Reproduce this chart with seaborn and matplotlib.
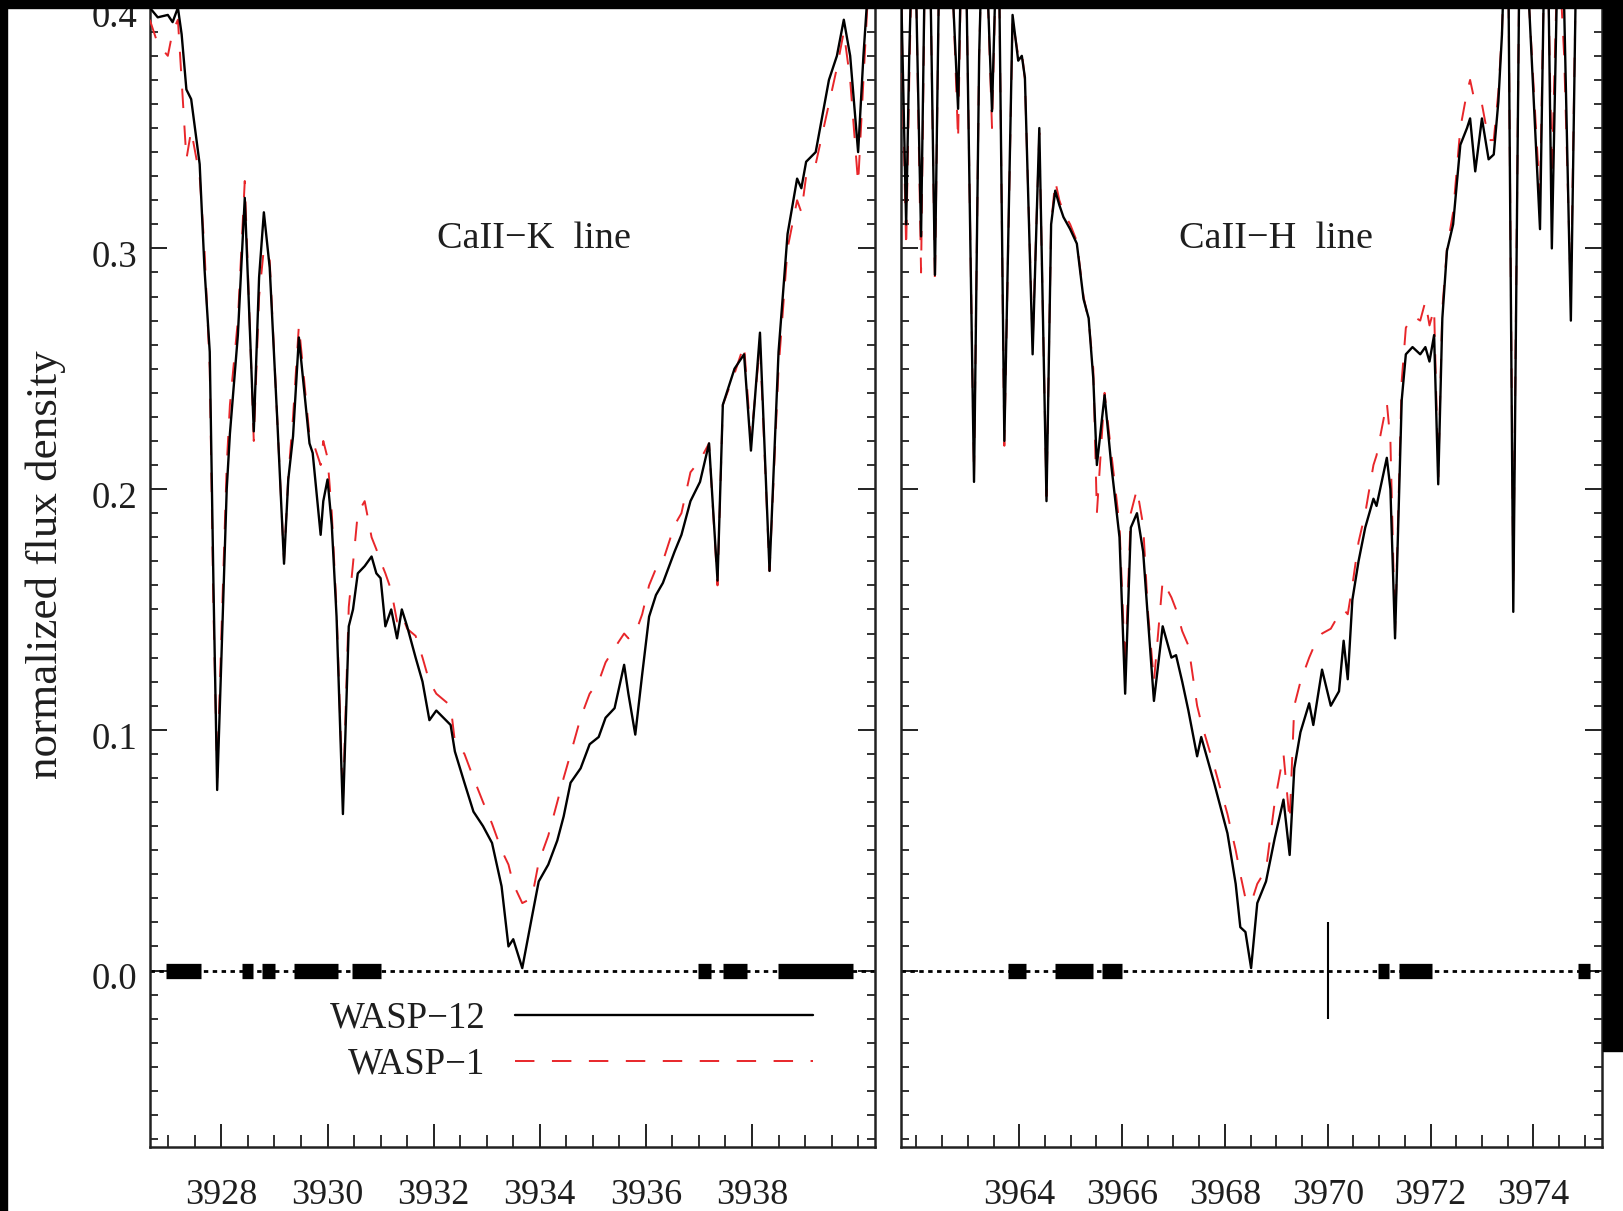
import matplotlib
matplotlib.use("Agg")
import matplotlib.pyplot as plt
import matplotlib.transforms as mtransforms
from matplotlib.patches import Rectangle
from matplotlib.ticker import MultipleLocator, FixedLocator, FormatStrFormatter
import numpy as np
import pandas as pd
import seaborn as sns

# ---------------- data ----------------
k_wave = [3926.65, 3926.80, 3926.99, 3927.08, 3927.18, 3927.25, 3927.34, 3927.43, 3927.59,
          3927.68, 3927.78, 3927.85, 3927.92, 3928.00, 3928.10, 3928.16, 3928.31, 3928.44,
          3928.61, 3928.71, 3928.80, 3928.91, 3929.05, 3929.18, 3929.26, 3929.35, 3929.46,
          3929.66, 3929.72, 3929.87, 3929.92, 3930.00, 3930.08, 3930.17, 3930.29, 3930.40,
          3930.48, 3930.57, 3930.70, 3930.83, 3930.92, 3931.00, 3931.09, 3931.20, 3931.31,
          3931.40, 3931.50, 3931.66, 3931.79, 3931.92, 3932.05, 3932.32, 3932.40, 3932.58,
          3932.75, 3932.93, 3933.10, 3933.28, 3933.41, 3933.50, 3933.67, 3933.85, 3933.98,
          3934.16, 3934.33, 3934.45, 3934.58, 3934.77, 3934.94, 3935.11, 3935.24, 3935.41,
          3935.59, 3935.67, 3935.80, 3935.93, 3936.06, 3936.19, 3936.32, 3936.54, 3936.67,
          3936.84, 3937.02, 3937.19, 3937.35, 3937.45, 3937.67, 3937.85, 3937.98, 3938.15,
          3938.33, 3938.50, 3938.67, 3938.85, 3938.93, 3939.02, 3939.20, 3939.45, 3939.60,
          3939.73, 3939.85, 3940.00, 3940.10, 3940.22, 3940.32]
k_wasp12 = [0.400, 0.396, 0.397, 0.394, 0.400, 0.389, 0.366, 0.362, 0.335,
            0.292, 0.257, 0.160, 0.075, 0.130, 0.200, 0.223, 0.264, 0.321,
            0.224, 0.288, 0.315, 0.292, 0.230, 0.169, 0.204, 0.222, 0.263,
            0.219, 0.215, 0.181, 0.195, 0.204, 0.185, 0.147, 0.065, 0.143,
            0.150, 0.165, 0.168, 0.172, 0.165, 0.163, 0.143, 0.150, 0.138,
            0.150, 0.143, 0.130, 0.120, 0.104, 0.108, 0.102, 0.091, 0.078,
            0.066, 0.060, 0.053, 0.035, 0.010, 0.013, 0.001, 0.022, 0.037,
            0.044, 0.054, 0.064, 0.078, 0.084, 0.094, 0.097, 0.105, 0.109,
            0.127, 0.115, 0.098, 0.123, 0.147, 0.156, 0.161, 0.174, 0.181,
            0.195, 0.203, 0.219, 0.162, 0.235, 0.250, 0.256, 0.216, 0.265,
            0.166, 0.257, 0.306, 0.329, 0.325, 0.336, 0.340, 0.370, 0.380,
            0.395, 0.380, 0.340, 0.380, 0.420, 0.430]
k_wasp1 = [0.395, 0.385, 0.380, 0.390, 0.395, 0.370, 0.337, 0.349, 0.330,
           0.300, 0.250, 0.150, 0.080, 0.140, 0.210, 0.235, 0.270, 0.328,
           0.220, 0.280, 0.300, 0.295, 0.230, 0.170, 0.205, 0.230, 0.268,
           0.222, 0.220, 0.210, 0.220, 0.213, 0.190, 0.150, 0.070, 0.151,
           0.169, 0.190, 0.195, 0.180, 0.175, 0.170, 0.165, 0.158, 0.145,
           0.148, 0.142, 0.139, 0.130, 0.120, 0.115, 0.110, 0.095, 0.090,
           0.080, 0.070, 0.061, 0.050, 0.044, 0.036, 0.028, 0.030, 0.045,
           0.056, 0.070, 0.080, 0.090, 0.105, 0.115, 0.120, 0.128, 0.134,
           0.140, 0.138, 0.140, 0.148, 0.160, 0.167, 0.170, 0.185, 0.190,
           0.207, 0.212, 0.219, 0.160, 0.235, 0.248, 0.260, 0.220, 0.260,
           0.166, 0.250, 0.300, 0.320, 0.315, 0.330, 0.335, 0.360, 0.375,
           0.390, 0.370, 0.327, 0.370, 0.420, 0.430]

h_wave = [3961.69, 3961.75, 3961.80, 3961.86, 3961.92, 3962.00, 3962.09, 3962.17, 3962.28,
          3962.36, 3962.45, 3962.60, 3962.72, 3962.81, 3962.88, 3962.95, 3963.12, 3963.22,
          3963.28, 3963.38, 3963.47, 3963.55, 3963.60, 3963.71, 3963.87, 3963.98, 3964.05,
          3964.11, 3964.26, 3964.39, 3964.53, 3964.62, 3964.70, 3964.78, 3964.86, 3964.99,
          3965.12, 3965.25, 3965.35, 3965.44, 3965.51, 3965.66, 3965.79, 3965.95, 3966.06,
          3966.17, 3966.29, 3966.41, 3966.50, 3966.62, 3966.79, 3966.96, 3967.05, 3967.17,
          3967.29, 3967.46, 3967.54, 3967.79, 3968.05, 3968.21, 3968.30, 3968.40, 3968.51,
          3968.63, 3968.80, 3968.97, 3969.14, 3969.26, 3969.35, 3969.47, 3969.64, 3969.72,
          3969.89, 3970.06, 3970.22, 3970.31, 3970.39, 3970.48, 3970.60, 3970.73, 3970.89,
          3970.95, 3971.15, 3971.22, 3971.31, 3971.44, 3971.52, 3971.65, 3971.80, 3971.90,
          3971.98, 3972.07, 3972.15, 3972.23, 3972.32, 3972.44, 3972.58, 3972.71, 3972.77,
          3972.87, 3973.00, 3973.13, 3973.23, 3973.32, 3973.39, 3973.45, 3973.52, 3973.61,
          3973.72, 3973.80, 3973.92, 3974.13, 3974.22, 3974.30, 3974.36, 3974.48, 3974.60,
          3974.73, 3974.84, 3975.00, 3975.33]
h_wasp12 = [0.420, 0.360, 0.310, 0.380, 0.430, 0.400, 0.305, 0.430, 0.400,
            0.289, 0.430, 0.440, 0.400, 0.358, 0.430, 0.440, 0.203, 0.380,
            0.430, 0.410, 0.357, 0.420, 0.430, 0.220, 0.397, 0.378, 0.380,
            0.371, 0.256, 0.350, 0.195, 0.310, 0.324, 0.318, 0.313, 0.308,
            0.302, 0.279, 0.271, 0.246, 0.210, 0.239, 0.210, 0.180, 0.115,
            0.184, 0.190, 0.174, 0.147, 0.112, 0.143, 0.130, 0.131, 0.120,
            0.108, 0.089, 0.097, 0.078, 0.057, 0.036, 0.018, 0.016, 0.001,
            0.028, 0.037, 0.055, 0.071, 0.048, 0.084, 0.099, 0.111, 0.102,
            0.125, 0.110, 0.116, 0.137, 0.121, 0.154, 0.170, 0.184, 0.196,
            0.193, 0.213, 0.200, 0.138, 0.237, 0.256, 0.259, 0.256, 0.259,
            0.253, 0.264, 0.202, 0.271, 0.299, 0.310, 0.343, 0.350, 0.354,
            0.332, 0.354, 0.337, 0.339, 0.361, 0.389, 0.430, 0.400, 0.149,
            0.400, 0.440, 0.400, 0.308, 0.430, 0.400, 0.300, 0.430, 0.400,
            0.270, 0.430, 0.450, 0.450]
h_wasp1 = [0.420, 0.350, 0.300, 0.370, 0.430, 0.400, 0.290, 0.430, 0.400,
           0.285, 0.430, 0.440, 0.400, 0.345, 0.430, 0.440, 0.205, 0.380,
           0.430, 0.410, 0.350, 0.420, 0.430, 0.218, 0.395, 0.380, 0.382,
           0.370, 0.260, 0.348, 0.197, 0.310, 0.328, 0.320, 0.315, 0.310,
           0.303, 0.280, 0.270, 0.250, 0.190, 0.240, 0.215, 0.185, 0.125,
           0.190, 0.200, 0.185, 0.150, 0.120, 0.162, 0.155, 0.150, 0.141,
           0.135, 0.110, 0.103, 0.085, 0.065, 0.050, 0.040, 0.030, 0.028,
           0.036, 0.042, 0.070, 0.090, 0.062, 0.110, 0.120, 0.130, 0.134,
           0.140, 0.142, 0.148, 0.150, 0.148, 0.160, 0.178, 0.190, 0.210,
           0.214, 0.236, 0.220, 0.140, 0.245, 0.267, 0.272, 0.270, 0.278,
           0.268, 0.275, 0.205, 0.275, 0.300, 0.315, 0.350, 0.365, 0.370,
           0.360, 0.360, 0.345, 0.345, 0.365, 0.390, 0.430, 0.400, 0.160,
           0.400, 0.440, 0.400, 0.320, 0.430, 0.400, 0.330, 0.430, 0.380,
           0.280, 0.430, 0.450, 0.450]

# masked wavelength intervals drawn as thick bars on the zero level
k_mask_start = [3926.96, 3928.38, 3928.76, 3929.37, 3930.47, 3936.99, 3937.46, 3938.49]
k_mask_end = [3927.61, 3928.59, 3929.01, 3930.20, 3931.00, 3937.22, 3937.91, 3939.90]
h_mask_start = [3963.78, 3964.69, 3965.60, 3970.98, 3971.39, 3974.87]
h_mask_end = [3964.14, 3965.43, 3966.00, 3971.20, 3972.03, 3975.11]

h_marker_wave = [3970.0]
h_marker_low = [-0.02]
h_marker_high = [0.02]

k_xticks = [3928, 3930, 3932, 3934, 3936, 3938]
h_xticks = [3964, 3966, 3968, 3970, 3972, 3974]
y_ticks = [0.0, 0.1, 0.2, 0.3, 0.4]

series_names = ["WASP\u221212", "WASP\u22121"]
panel_titles = ["CaII\u2212K  line", "CaII\u2212H  line"]
title_waves = [3933.90, 3969.00]
title_level = 0.304

# ---------------- style ----------------
sns.set_style("ticks")
plt.rcParams["font.family"] = ["Liberation Serif", "DejaVu Serif"]
TXT = "#1e1e1e"

W, H = 1624, 1211
fig = plt.figure(figsize=(W / 100, H / 100), dpi=100)
fig.patch.set_facecolor("white")

YMIN, YMAX = -0.0732, 0.42
y0_px = 970.5          # pixel row of flux 0
px_per_unit = 2407.0
top_px = y0_px - YMAX * px_per_unit
bot_px = 1146.7
ax_bottom = (H - bot_px) / H
ax_height = (bot_px - top_px) / H

axL = fig.add_axes([150 / W, ax_bottom, 725 / W, ax_height])
axR = fig.add_axes([900.5 / W, ax_bottom, 701.2 / W, ax_height])

panels = [
    (axL, k_wave, k_wasp12, k_wasp1, k_mask_start, k_mask_end, (3926.654, 3940.318), k_xticks),
    (axR, h_wave, h_wasp12, h_wasp1, h_mask_start, h_mask_end, (3961.69, 3975.33), h_xticks),
]

for i, (ax, wv, f12, f1, ms, me, xlim, xt) in enumerate(panels):
    df = pd.DataFrame({"wave": wv, "wasp12": f12, "wasp1": f1})
    sns.lineplot(data=df, x="wave", y="wasp1", ax=ax, color="#e8262a", lw=1.4,
                 ls=(0, (10, 9)), estimator=None, sort=False,
                 label=series_names[1] if i == 0 else None, zorder=3)
    sns.lineplot(data=df, x="wave", y="wasp12", ax=ax, color="black", lw=1.7,
                 estimator=None, sort=False,
                 label=series_names[0] if i == 0 else None, zorder=4)
    # zero level
    ax.axhline(0.0, color="black", lw=2.0, ls=(0, (1.6, 1.6)), zorder=2)
    ax.hlines([0.0] * len(ms), ms, me, colors="black", lw=11, zorder=5)

    ax.set_xlim(*xlim)
    ax.set_ylim(YMIN, YMAX)
    ax.xaxis.set_major_locator(FixedLocator(xt))
    ax.xaxis.set_minor_locator(MultipleLocator(0.5))
    ax.yaxis.set_major_locator(FixedLocator(y_ticks))
    ax.yaxis.set_minor_locator(MultipleLocator(0.01))
    ax.tick_params(which="both", direction="in", left=True, right=True,
                   top=True, bottom=True, color="#222222")
    ax.tick_params(axis="y", which="major", length=12, width=1.4)
    ax.tick_params(axis="y", which="minor", length=6, width=1.3)
    ax.tick_params(axis="x", which="major", length=16.5, width=1.4)
    ax.tick_params(axis="x", which="minor", length=8.5, width=1.3)
    ax.tick_params(axis="x", labelsize=26, pad=23, labelcolor=TXT)
    ax.tick_params(axis="y", labelsize=26.5, pad=9, labelcolor=TXT)
    for sp in ax.spines.values():
        sp.set_linewidth(1.8)
        sp.set_color("#222222")
    ax.set_xlabel("")
    ax.set_ylabel("")
    ax.text(title_waves[i], title_level, panel_titles[i], fontsize=27.5,
            color=TXT, ha="center", va="center")

axL.yaxis.set_major_formatter(FormatStrFormatter("%.1f"))
axR.tick_params(axis="y", labelleft=False)

# y tick labels sit slightly below their ticks in the original
off = mtransforms.ScaledTranslation(0, -4 / 72, fig.dpi_scale_trans)
for lab in axL.get_yticklabels():
    lab.set_transform(lab.get_transform() + off)

axR.vlines(h_marker_wave, h_marker_low, h_marker_high, colors="black", lw=1.5, zorder=5)

axL.set_ylabel("normalized flux density", fontsize=32.5, color=TXT, va="center")
axL.yaxis.set_label_coords(-0.1434, 0.4905)

handles, labels = axL.get_legend_handles_labels()
order = [labels.index(series_names[0]), labels.index(series_names[1])]
leg = axL.legend([handles[j] for j in order], [labels[j] for j in order],
                 markerfirst=False, frameon=False, fontsize=26.5,
                 handlelength=8.1, handletextpad=0.8, labelspacing=0.3,
                 loc="center", bbox_to_anchor=(3934.59, -0.0295),
                 bbox_transform=axL.transData, borderpad=0, borderaxespad=0)
for t in leg.get_texts():
    t.set_color(TXT)

# black scan border
fig.add_artist(Rectangle((0, (H - 8) / H), 1, 8 / H, transform=fig.transFigure,
                         color="black", zorder=100))
fig.add_artist(Rectangle((0, 0), 7 / W, 1, transform=fig.transFigure,
                         color="black", zorder=100))
fig.add_artist(Rectangle((1603 / W, 160 / H), 21 / W, 1 - 160 / H, transform=fig.transFigure,
                         color="black", zorder=100))

fig.savefig("out.png", dpi=100, facecolor=fig.get_facecolor())
